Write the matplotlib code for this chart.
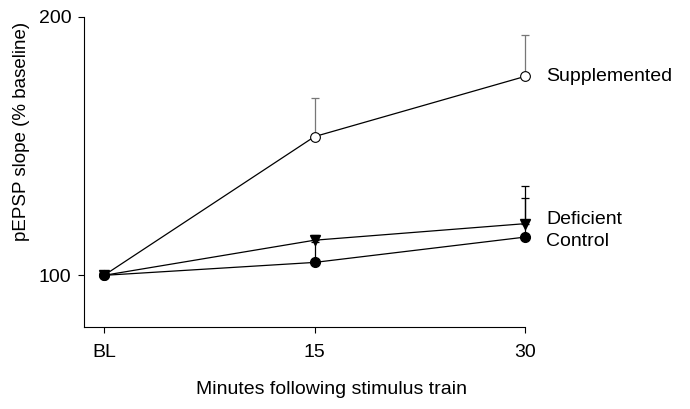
import matplotlib.pyplot as plt

plt.rcParams['font.family'] = ['Liberation Sans', 'DejaVu Sans']

x_labels = ['BL', '15', '30']
x_pos = [0, 15, 30]

supplemented = [100, 153.7, 177]
supplemented_err = [0, 15, 16]
deficient = [100, 113.6, 120]
deficient_err = [0, 2, 14.6]
control = [100, 105, 114.8]
control_err = [0, 8, 15]

fig = plt.figure(figsize=(6.9, 4.09), dpi=100)
ax = fig.add_axes([84/690, 1 - 327/409, (525 - 84)/690, (327 - 17)/409])

lw = 0.9
# error bars, upper side only
for vals, errs, col in [(supplemented, supplemented_err, '#777777'),
                        (deficient, deficient_err, 'black'),
                        (control, control_err, 'black')]:
    eb = ax.errorbar(x_pos, vals, yerr=[[0, 0, 0], errs], fmt='none',
                     ecolor=col, elinewidth=lw, capsize=3, capthick=lw, zorder=1)
    for art in eb.lines[1] + eb.lines[2]:
        art.set_clip_on(False)

ax.plot(x_pos, supplemented, color='black', lw=lw, marker='o', ms=7,
        mfc='white', mec='black', mew=0.8, zorder=2, clip_on=False)
ax.plot(x_pos, control, color='black', lw=lw, marker='o', ms=7,
        mfc='black', mec='black', zorder=3, clip_on=False)
ax.plot(x_pos, deficient, color='black', lw=lw, marker='v', ms=7.5,
        mfc='black', mec='black', zorder=4, clip_on=False)

ax.text(31.5, supplemented[-1], 'Supplemented', fontsize=14, va='center', ha='left')
ax.text(31.5, deficient[-1] + 1.5, 'Deficient', fontsize=14, va='center', ha='left')
ax.text(31.5, control[-1] - 1.8, 'Control', fontsize=14, va='center', ha='left')

ax.set_xlim(-1.43, 30)
ax.set_ylim(80, 200)
ax.set_xticks(x_pos)
ax.set_xticklabels(x_labels)
ax.set_yticks([100, 200])
ax.tick_params(labelsize=14, length=4, width=0.8, direction='out')
ax.tick_params(axis='x', pad=8)
ax.tick_params(axis='y', pad=5)

for side in ['top', 'right']:
    ax.spines[side].set_visible(False)
for side in ['left', 'bottom']:
    ax.spines[side].set_linewidth(0.8)

fig.text(22/690, 1 - 131/409, 'pEPSP slope (% baseline)', rotation=90,
         fontsize=13.5, ha='center', va='center')
fig.text(331/690, 1 - 389/409, 'Minutes following stimulus train',
         fontsize=14, ha='center', va='center')

fig.savefig('out.png', dpi=100)
